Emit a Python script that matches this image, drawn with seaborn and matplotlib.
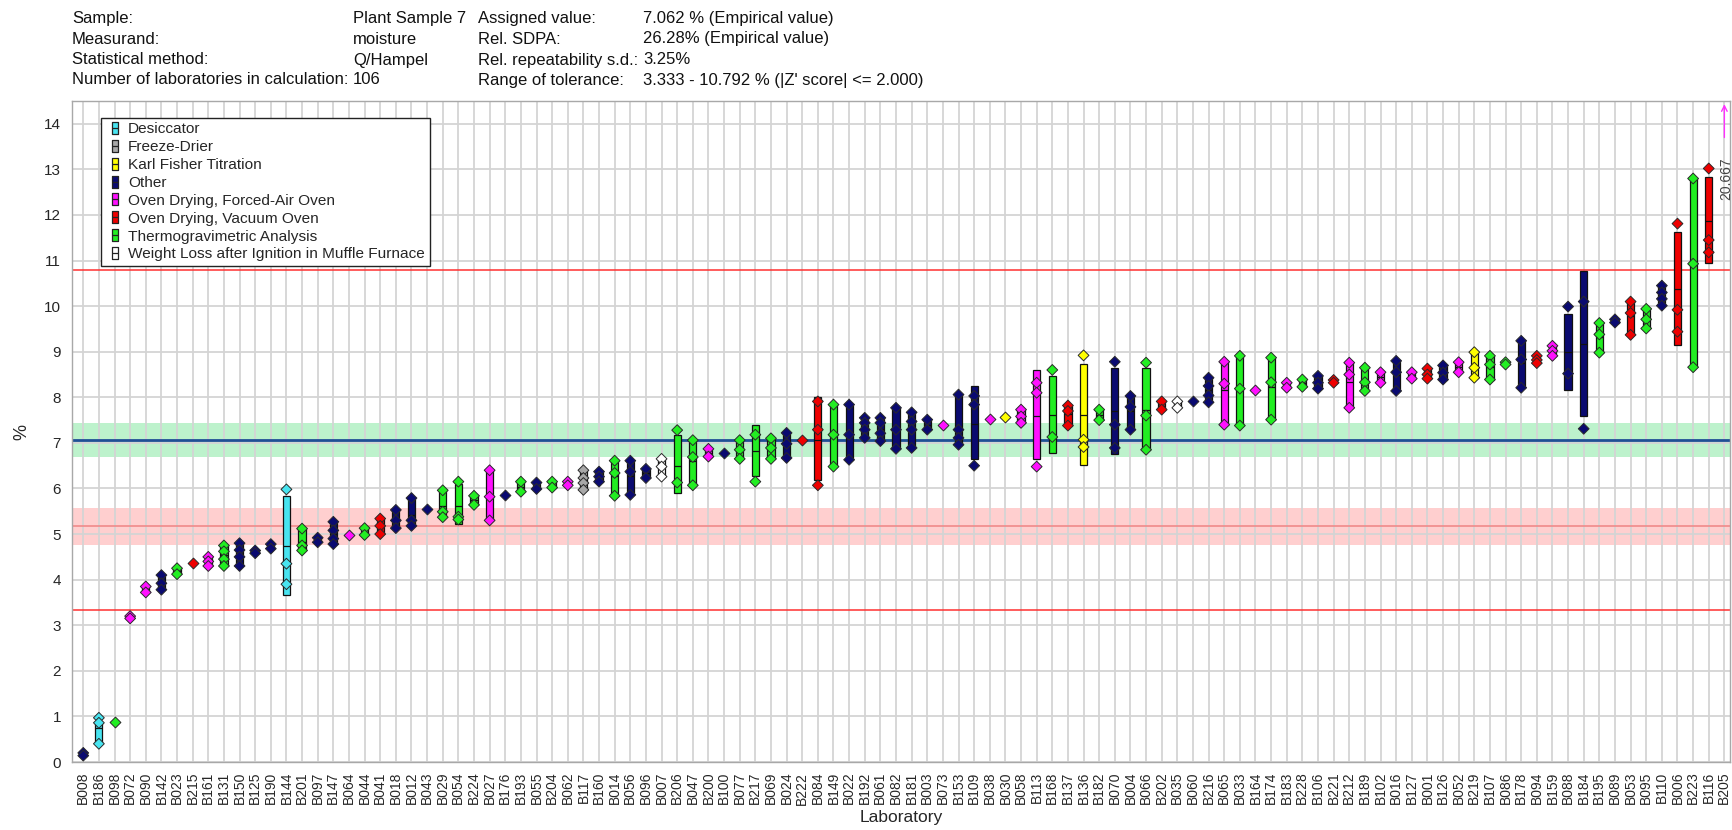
import numpy as np
import pandas as pd
import matplotlib
matplotlib.use("Agg")
import matplotlib.pyplot as plt
from matplotlib.lines import Line2D
from matplotlib.path import Path
from matplotlib.legend_handler import HandlerTuple
import seaborn as sns

# ---------------- data ----------------
labs = ["B008", "B186", "B098", "B072", "B090", "B142", "B023", "B215", "B161", "B131",
        "B150", "B125", "B190", "B144", "B201", "B097", "B147", "B064", "B044", "B041",
        "B018", "B012", "B043", "B029", "B054", "B224", "B027", "B176", "B193", "B055",
        "B204", "B062", "B117", "B160", "B014", "B056", "B096", "B007", "B206", "B047",
        "B200", "B100", "B077", "B217", "B069", "B024", "B222", "B084", "B149", "B022",
        "B192", "B061", "B082", "B181", "B003", "B073", "B153", "B109", "B038", "B030",
        "B058", "B113", "B168", "B137", "B136", "B182", "B070", "B004", "B066", "B202",
        "B035", "B060", "B216", "B065", "B033", "B164", "B174", "B183", "B228", "B106",
        "B221", "B212", "B189", "B102", "B016", "B127", "B001", "B126", "B052", "B219",
        "B107", "B086", "B178", "B094", "B159", "B088", "B184", "B195", "B089", "B053",
        "B095", "B110", "B006", "B223", "B116", "B205"]

method_names = ["Desiccator", "Freeze-Drier", "Karl Fisher Titration", "Other",
                "Oven Drying, Forced-Air Oven", "Oven Drying, Vacuum Oven",
                "Thermogravimetric Analysis", "Weight Loss after Ignition in Muffle Furnace"]
method_codes = ["D", "F", "K", "O", "FA", "V", "T", "W"]
method_colors = ["#48e4f0", "#a8a8a8", "#ffff00", "#0a0a70", "#ff10ff", "#ee0000",
                 "#22ee22", "#ffffff"]

lab_methods = ["O", "D", "T", "FA", "FA", "O", "T", "V", "FA", "T",
               "O", "O", "O", "D", "T", "O", "O", "FA", "T", "V",
               "O", "O", "O", "T", "T", "T", "FA", "O", "T", "O",
               "T", "FA", "F", "O", "T", "O", "O", "W", "T", "T",
               "FA", "O", "T", "T", "T", "O", "V", "V", "T", "O",
               "O", "O", "O", "O", "O", "FA", "O", "O", "FA", "K",
               "FA", "FA", "T", "V", "K", "T", "O", "O", "T", "V",
               "W", "O", "O", "FA", "T", "FA", "T", "FA", "T", "O",
               "V", "FA", "T", "FA", "O", "FA", "V", "O", "FA", "K",
               "T", "T", "O", "V", "FA", "O", "O", "T", "O", "V",
               "T", "O", "V", "T", "V", "FA"]

replicates = [
    [0.2, 0.14], [0.97, 0.86, 0.40], [0.88], [3.2, 3.15], [3.85, 3.72],
    [4.1, 3.92, 3.78], [4.25, 4.12], [4.37], [4.5, 4.4, 4.3], [4.75, 4.62, 4.45, 4.3],
    [4.8, 4.65, 4.5, 4.3], [4.64, 4.58], [4.78, 4.68], [5.98, 4.35, 3.9], [5.12, 4.75, 4.64],
    [4.92, 4.82], [5.27, 5.08, 4.9, 4.78], [4.99], [5.13, 4.98], [5.34, 5.18, 5.0],
    [5.53, 5.3, 5.13], [5.79, 5.3, 5.18], [5.56], [5.96, 5.49, 5.37], [6.15, 5.38, 5.32],
    [5.84, 5.64], [6.4, 5.82, 5.3], [5.86], [6.15, 5.93], [6.13, 5.99],
    [6.15, 6.02], [6.15, 6.07], [6.4, 6.23, 6.12, 5.97], [6.37, 6.26, 6.15], [6.61, 6.34, 5.84],
    [6.61, 6.37, 5.86], [6.43, 6.23], [6.65, 6.48, 6.26], [7.28, 6.13], [7.06, 6.69, 6.07],
    [6.87, 6.7], [6.78], [7.06, 6.85, 6.65], [7.18, 6.15], [7.1, 6.89, 6.65],
    [7.22, 6.98, 6.67], [7.07], [7.91, 7.29, 6.07], [7.84, 7.18, 6.48], [7.84, 7.18, 6.63],
    [7.55, 7.44, 7.29, 7.11], [7.55, 7.44, 7.21, 7.04], [7.77, 7.29, 6.87], [7.67, 7.47, 7.29, 6.89], [7.51, 7.29],
    [7.4], [8.06, 7.29, 7.11, 6.96], [8.03, 7.84, 6.5], [7.53], [7.57],
    [7.73, 7.58, 7.44], [8.32, 8.1, 6.48], [8.6, 7.13], [7.82, 7.7, 7.38], [8.92, 7.07, 6.91],
    [7.73, 7.5], [8.78, 7.4, 6.89], [8.03, 7.79, 7.29], [8.76, 7.6, 6.85], [7.91, 7.73],
    [7.91, 7.77], [7.93], [8.43, 8.25, 8.04, 7.89], [8.78, 8.3, 7.4], [8.91, 8.19, 7.38],
    [8.17], [8.87, 8.33, 7.51], [8.32, 8.21], [8.39, 8.23], [8.47, 8.32, 8.19],
    [8.38, 8.32], [8.76, 8.5, 7.77], [8.65, 8.33, 8.14], [8.55, 8.32], [8.8, 8.55, 8.14],
    [8.55, 8.41], [8.63, 8.5, 8.41], [8.7, 8.54, 8.39], [8.77, 8.55], [8.99, 8.65, 8.43],
    [8.91, 8.72, 8.39], [8.77, 8.72], [9.24, 8.83, 8.21], [8.91, 8.82, 8.75], [9.13, 9.02, 8.91],
    [9.99, 8.52], [10.1, 7.31], [9.63, 9.38, 8.98], [9.71, 9.64], [10.1, 9.85, 9.37],
    [9.94, 9.71, 9.51], [10.45, 10.3, 10.16, 10.01], [11.81, 9.92, 9.44], [12.8, 10.93, 8.66], [13.02, 11.45, 11.18],
    [20.667],
]

# bars (low, high, centre line) read where they differ from the replicate spread
bar_overrides = {
    "B186": (0.42, 0.88, 0.75), "B144": (3.67, 5.83, 4.74), "B054": (5.21, 6.10, 5.61),
    "B206": (5.89, 7.17, 6.49), "B217": (6.27, 7.39, 6.82), "B084": (6.18, 8.00, 7.06),
    "B109": (6.64, 8.25, 7.41), "B113": (6.64, 8.60, 7.59), "B168": (6.78, 8.46, 7.62),
    "B136": (6.51, 8.73, 7.61), "B070": (6.75, 8.64, 7.69), "B066": (6.84, 8.64, 7.72),
    "B088": (8.16, 9.83, 8.99), "B184": (7.60, 10.77, 9.17), "B006": (9.15, 11.63, 10.38),
    "B223": (8.66, 12.80, 10.90), "B116": (10.94, 12.84, 11.86),
}

assigned_value = 7.062
assigned_band = (6.69, 7.43)
tol_low, tol_high = 3.333, 10.792
pink_line = 5.17
pink_band = (4.77, 5.58)
offscale_lab, offscale_value = "B205", "20.667"

header_rows = [
    ("Sample:", "Plant Sample 7", "Assigned value:", "7.062 % (Empirical value)"),
    ("Measurand:", "moisture", "Rel. SDPA:", "26.28% (Empirical value)"),
    ("Statistical method:", "Q/Hampel", "Rel. repeatability s.d.:", "3.25%"),
    ("Number of laboratories in calculation:", "106", "Range of tolerance:",
     "3.333 - 10.792 % (|Z' score| <= 2.000)"),
]

# ---------------- styling ----------------
sns.set_style("white")
plt.rcParams["font.family"] = ["Liberation Sans", "DejaVu Sans"]

code_to_name = dict(zip(method_codes, method_names))
palette = dict(zip(method_names, method_colors))

rows = []
for lab, m, vals in zip(labs, lab_methods, replicates):
    for v in vals:
        rows.append({"lab": lab, "value": v, "method": code_to_name[m]})
df = pd.DataFrame(rows)

W, H = 1732, 830
fig = plt.figure(figsize=(W / 100, H / 100), dpi=100)
ax_l, ax_r, ax_t, ax_b = 72, 1730, 101.0, 762
ax = fig.add_axes([ax_l / W, 1 - ax_b / H, (ax_r - ax_l) / W, (ax_b - ax_t) / H])

# bands and reference lines
ax.axhspan(*assigned_band, color="#bdf2cc", zorder=0.2, lw=0)
ax.axhspan(*pink_band, color="#ffcfcf", zorder=0.2, lw=0)
ax.axhline(pink_line, color="#f08a8a", lw=1.2, zorder=2)
ax.axhline(tol_low, color="#ff3030", lw=1.1, zorder=2)
ax.axhline(tol_high, color="#ff3030", lw=1.1, zorder=2)
ax.axhline(assigned_value, color="#1f4f96", lw=2, zorder=2)

# bars
bw = 0.46
for i, (lab, m, vals) in enumerate(zip(labs, lab_methods, replicates)):
    if lab == offscale_lab:
        continue
    if lab in bar_overrides:
        lo, hi, mid = bar_overrides[lab]
    elif len(vals) >= 2:
        lo, hi, mid = min(vals), max(vals), float(np.mean(vals))
    else:
        continue
    col = palette[code_to_name[m]]
    ax.bar(i, hi - lo, bottom=lo, width=bw, color=col, edgecolor="#111111",
           linewidth=0.9, zorder=3)
    ax.hlines(mid, i - bw / 2, i + bw / 2, colors="#111111", lw=0.9, zorder=3.5)

# replicate diamonds
sns.stripplot(data=df, x="lab", y="value", hue="method", order=labs,
              hue_order=method_names, palette=palette, marker="D", size=5.5,
              jitter=False, dodge=False, linewidth=0.7, edgecolor="#2a2a2a",
              legend=False, ax=ax, zorder=5)

# off-scale indicator
xi = labs.index(offscale_lab)
ax.annotate("", xy=(xi, 14.43), xytext=(xi, 13.7),
            arrowprops=dict(arrowstyle="->", color="#ff30ff", lw=1.0,
                            shrinkA=0, shrinkB=0), annotation_clip=False)
ax.text(xi + 0.1, 12.8, offscale_value, rotation=90, color="#444444", fontsize=10,
        ha="center", va="center", zorder=6)

# axes
ax.set_xlim(-0.72, 105.36)
ax.set_ylim(0, 14.5)
ax.set_yticks(range(0, 15))
ax.set_xticks(range(len(labs)))
ax.set_xticklabels(labs, rotation=90, fontsize=10)
ax.tick_params(axis="x", length=5, width=0.8, color="#999999", pad=2)
ax.tick_params(axis="y", length=0, labelsize=11, pad=8)
ax.grid(True, color="#d4d4d4", lw=1.3, zorder=1)
ax.set_axisbelow(True)
for s in ax.spines.values():
    s.set_color("#a8a8a8")
    s.set_linewidth(1)
ax.set_xlabel("Laboratory", fontsize=12.5, labelpad=4)
ax.set_ylabel("%", fontsize=13, labelpad=9.5)

# legend
rect = Path([(-0.27, -0.5), (0.27, -0.5), (0.27, 0.5), (-0.27, 0.5), (-0.27, -0.5)],
            [Path.MOVETO, Path.LINETO, Path.LINETO, Path.LINETO, Path.CLOSEPOLY])
handles = []
for name, col in zip(method_names, method_colors):
    h1 = Line2D([], [], ls="", marker=rect, ms=9.2, markerfacecolor=col,
                markeredgecolor="#222222", markeredgewidth=0.9)
    h2 = Line2D([], [], ls="", marker="_", ms=4.6, markeredgecolor="#222222",
                markeredgewidth=0.9)
    handles.append((h1, h2))
leg = ax.legend(handles, method_names, handler_map={tuple: HandlerTuple(ndivide=1)},
                loc="upper left",
                bbox_to_anchor=((101 - ax_l) / (ax_r - ax_l), (ax_b - 117.7) / (ax_b - ax_t)),
                borderaxespad=0, fontsize=11.1, frameon=True, fancybox=False,
                edgecolor="#222222", framealpha=1, handlelength=1.14, handletextpad=0.3,
                labelspacing=0.25, borderpad=0.31)
leg.get_frame().set_linewidth(1)
leg.set_zorder(10)

# header
col_x = [72, 353, 478, 643]
row_y = [19, 39, 60, 80]
for r, row in enumerate(header_rows):
    for c, txt in enumerate(row):
        fig.text(col_x[c] / W, 1 - row_y[r] / H, txt, fontsize=12, ha="left",
                 va="center", color="#111111")

fig.savefig("out.png", dpi=100)
